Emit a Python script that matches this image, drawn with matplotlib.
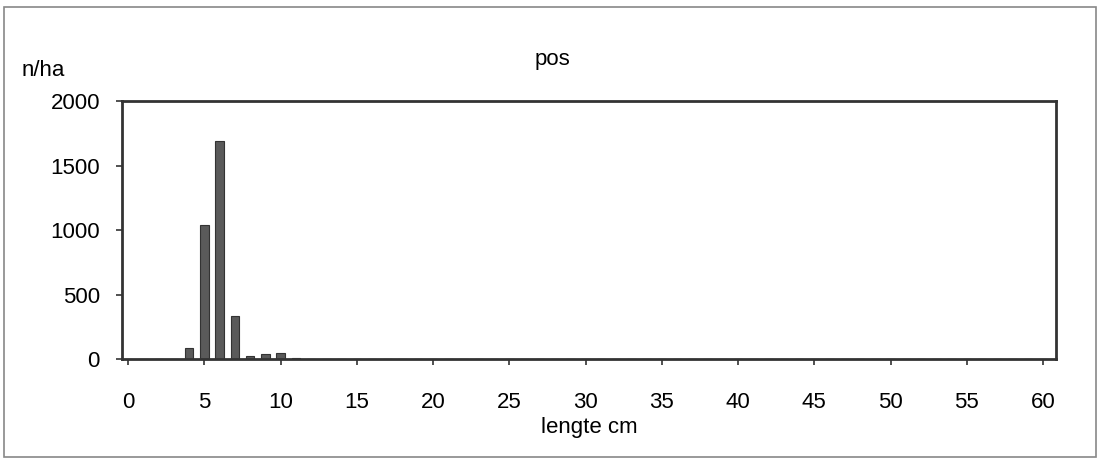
import matplotlib
matplotlib.use("Agg")
import matplotlib.pyplot as plt
from matplotlib.patches import Rectangle

plt.rcParams['font.family'] = ['Liberation Sans', 'DejaVu Sans']

lengths = list(range(0, 61))
values = [0] * 61
nonzero = {4: 88, 5: 1040, 6: 1690, 7: 330, 8: 23, 9: 38, 10: 50, 11: 10}
for k, v in nonzero.items():
    values[k] = v
xticks = list(range(0, 61, 5))
yticks = [0, 500, 1000, 1500, 2000]

fig = plt.figure(figsize=(11, 4.62), dpi=100)
fig.patches.append(Rectangle((0.004, 0.01), 0.992, 0.975, transform=fig.transFigure,
                             fill=False, edgecolor='#888888', linewidth=1.2))
ax = fig.add_axes([0.111, 0.223, 0.849, 0.558])
ax.bar(lengths, values, width=0.55, color='#5a5a5a', edgecolor='#333333', linewidth=0.8)
ax.set_xlim(-0.4, 60.85)
ax.set_ylim(0, 2000)
ax.set_xticks(xticks)
ax.set_yticks(yticks)
ax.tick_params(axis='both', labelsize=16, color='#333333', length=4, width=1.2, pad=12)
ax.tick_params(axis='x', pad=20)
for s in ax.spines.values():
    s.set_linewidth(2)
    s.set_color('#333333')
ax.set_xlabel('lengte cm', fontsize=16, labelpad=3)
fig.text(0.502, 0.872, 'pos', fontsize=16, ha='center', va='center')
fig.text(0.02, 0.848, 'n/ha', fontsize=16, ha='left', va='center')
fig.savefig('out.png', dpi=100)
